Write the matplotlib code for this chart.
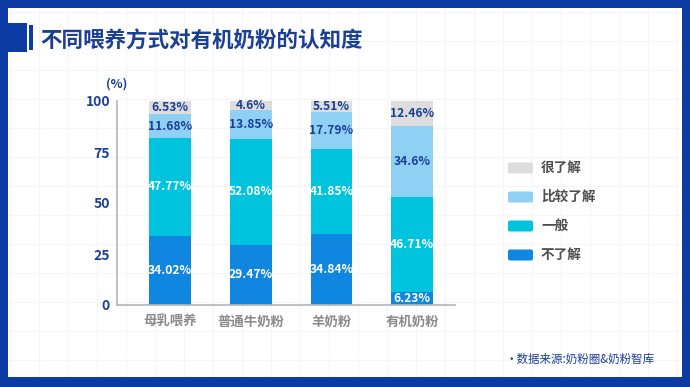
"""Stacked bar: awareness of organic milk powder by feeding method."""
import matplotlib
matplotlib.use("Agg")
import matplotlib.pyplot as plt
from matplotlib.patches import Rectangle, FancyBboxPatch

plt.rcParams["font.family"] = ["Noto Sans CJK SC", "DejaVu Sans"]

NAVY = "#1b3f95"; FRAME = "#0c3ba3"; GREY_TXT = "#8a8a8a"; AXIS = "#b5b5b5"

categories = ["母乳喂养", "普通牛奶粉", "羊奶粉", "有机奶粉"]
series_names = ["不了解", "一般", "比较了解", "很了解"]
not_know = [34.02, 29.47, 34.84, 6.23]
average = [47.77, 52.08, 41.85, 46.71]
fairly_know = [11.68, 13.85, 17.79, 34.6]
know_well = [6.53, 4.6, 5.51, 12.46]
y_ticks = [0, 25, 50, 75, 100]

series = [not_know, average, fairly_know, know_well]
colors = ["#0f86e0", "#00c3dd", "#8fd0f5", "#dddddd"]
label_colors = ["white", "white", NAVY, NAVY]

W, H = 690, 387
fig = plt.figure(figsize=(W / 100, H / 100), dpi=100)
fig.patch.set_facecolor("white")

# faint background grid
bg = fig.add_axes([0, 0, 1, 1], zorder=-5)
bg.set_xlim(0, W); bg.set_ylim(H, 0); bg.axis("off")
for gx in range(10, W, 29):
    bg.axvline(gx, color="#f3f5f8", lw=0.8, zorder=0)
for gy in range(12, H, 29):
    bg.axhline(gy, color="#f3f5f8", lw=0.8, zorder=0)

# blue frame and title marker
for x, y, w, h in [(0, 0, W, 8), (0, 0, 8, H), (682, 0, 8, H), (0, 377, W, 10),
                   (0, 23, 27, 29), (29, 25, 4, 25)]:
    bg.add_patch(Rectangle((x, y), w, h, color=FRAME, lw=0, zorder=5))
bg.text(40, 41, "不同喂养方式对有机奶粉的认知度", fontsize=15.5, fontweight="bold",
        color=NAVY, va="center", ha="left")

# chart axes
left, right, bottom, top = 117, 455, 305, 101
ax = fig.add_axes([left / W, (H - bottom) / H, (right - left) / W, (bottom - top) / H])
ax.patch.set_alpha(0)
xs = list(range(len(categories)))
base = [0] * len(categories)
for vals, col, tcol in zip(series, colors, label_colors):
    ax.bar(xs, vals, width=0.52, bottom=base, color=col, lw=0)
    for x, b, v in zip(xs, base, vals):
        ax.text(x, b + v / 2, f"{v:g}%", ha="center", va="center", fontsize=8.7,
                fontweight="bold", color=tcol)
    base = [b + v for b, v in zip(base, vals)]

ax.set_xlim(-0.657, 3.53)
ax.set_ylim(0, 100)
ax.set_yticks(y_ticks)
ax.set_yticklabels([str(t) for t in y_ticks], fontsize=10, fontweight="bold", color=NAVY)
ax.set_xticks(xs)
ax.set_xticklabels(categories, fontsize=9.6, fontweight="bold", color=GREY_TXT)
ax.tick_params(length=0, pad=7)
ax.tick_params(axis="y", pad=5)
for s in ["top", "right"]:
    ax.spines[s].set_visible(False)
for s in ["left", "bottom"]:
    ax.spines[s].set_color(AXIS); ax.spines[s].set_linewidth(1.2)
ax.text(0.0, 1.05, "(%)", transform=ax.transAxes, fontsize=9, fontweight="bold",
        color=NAVY, ha="center", va="bottom")

# legend, top to bottom
for i, (name, col) in enumerate(zip(series_names[::-1], colors[::-1])):
    y = 168 + i * 29
    bg.add_patch(FancyBboxPatch((508, y - 5.5), 25, 11, boxstyle="round,pad=0,rounding_size=2",
                                fc=col, ec="none"))
    bg.text(541, y, name, fontsize=9.8, fontweight="bold", color="#4f4f4f", va="center")

bg.text(505, 359, "·数据来源:奶粉圈&奶粉智库", fontsize=8.3, color=NAVY, va="center")

fig.savefig("out.png", dpi=100, facecolor="white")
